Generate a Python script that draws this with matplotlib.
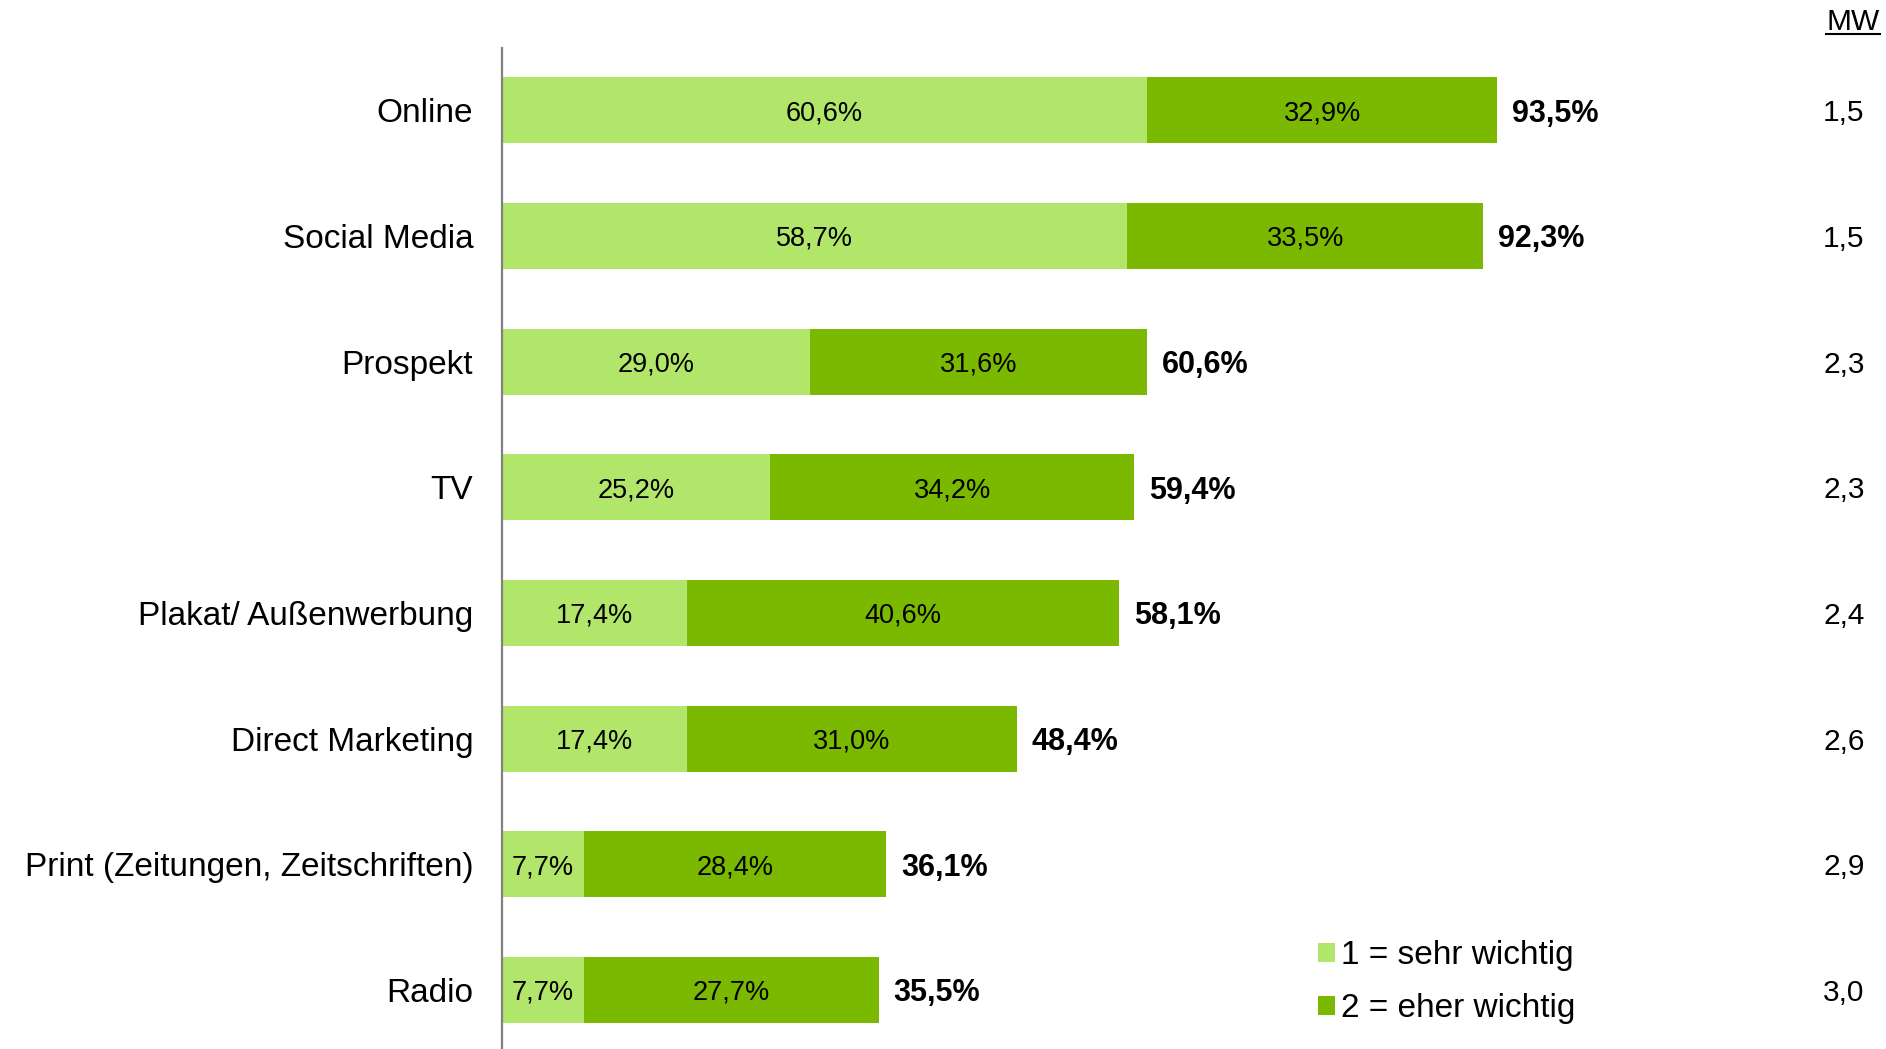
import matplotlib.pyplot as plt
from matplotlib.patches import Patch
from matplotlib.lines import Line2D

plt.rcParams['font.family'] = ['Liberation Sans', 'DejaVu Sans']

categories = ['Online', 'Social Media', 'Prospekt', 'TV', 'Plakat/ Außenwerbung',
              'Direct Marketing', 'Print (Zeitungen, Zeitschriften)', 'Radio']
sehr_wichtig = [60.6, 58.7, 29.0, 25.2, 17.4, 17.4, 7.7, 7.7]
eher_wichtig = [32.9, 33.5, 31.6, 34.2, 40.6, 31.0, 28.4, 27.7]
gesamt = [93.5, 92.3, 60.6, 59.4, 58.1, 48.4, 36.1, 35.5]
mittelwert = [1.5, 1.5, 2.3, 2.3, 2.4, 2.6, 2.9, 3.0]

LIGHT = '#B2E66A'
DARK = '#7AB900'


def fmt(v, suffix='%'):
    return f'{v:.1f}'.replace('.', ',') + suffix


fig = plt.figure(figsize=(18.86, 10.49), dpi=100)
ax = fig.add_axes([0.266, 0.0, 0.734, 0.954])

ypos = list(range(len(categories)))
ax.barh(ypos, sehr_wichtig, height=0.525, color=LIGHT)
ax.barh(ypos, eher_wichtig, left=sehr_wichtig, height=0.525, color=DARK)

for y, a, b, t, m in zip(ypos, sehr_wichtig, eher_wichtig, gesamt, mittelwert):
    ax.text(a / 2, y, fmt(a), ha='center', va='center_baseline', fontsize=19.5)
    ax.text(a + b / 2, y, fmt(b), ha='center', va='center_baseline', fontsize=19.5)
    ax.text(a + b + 1.4, y, fmt(t), ha='left', va='center_baseline', fontsize=22, fontweight='bold')
    ax.text(128.0, y, fmt(m, ''), ha='right', va='center_baseline', fontsize=21.5)

ax.set_xlim(0, 130)
ax.set_ylim(7.47, -0.493)
ax.set_yticks(ypos)
ax.set_yticklabels(categories, fontsize=24)
ax.tick_params(axis='y', length=0, pad=20.5)
ax.set_xticks([])
for side in ['top', 'right', 'bottom']:
    ax.spines[side].set_visible(False)
ax.spines['left'].set_color('#808080')
ax.spines['left'].set_linewidth(1.6)

# MW header, underlined
mw = ax.text(129.4, -0.70, 'MW', ha='right', va='center', fontsize=21.5, clip_on=False)
fig.canvas.draw()
bb = mw.get_window_extent()
inv = fig.transFigure.inverted()
x0, y0 = inv.transform((bb.x0, bb.y0 + 2))
x1, _ = inv.transform((bb.x1, bb.y0 + 2))
fig.add_artist(Line2D([x0, x1], [y0, y0], color='black', linewidth=1.5, transform=fig.transFigure))

handles = [Patch(facecolor=LIGHT, label='1 = sehr wichtig'),
           Patch(facecolor=DARK, label='2 = eher wichtig')]
fig.legend(handles=handles, loc='center left', bbox_to_anchor=(0.690, 0.0636),
           frameon=False, fontsize=24, handlelength=0.5, handleheight=0.5,
           handletextpad=0.2, labelspacing=0.66, borderpad=0)

fig.savefig('out.png', dpi=100)
